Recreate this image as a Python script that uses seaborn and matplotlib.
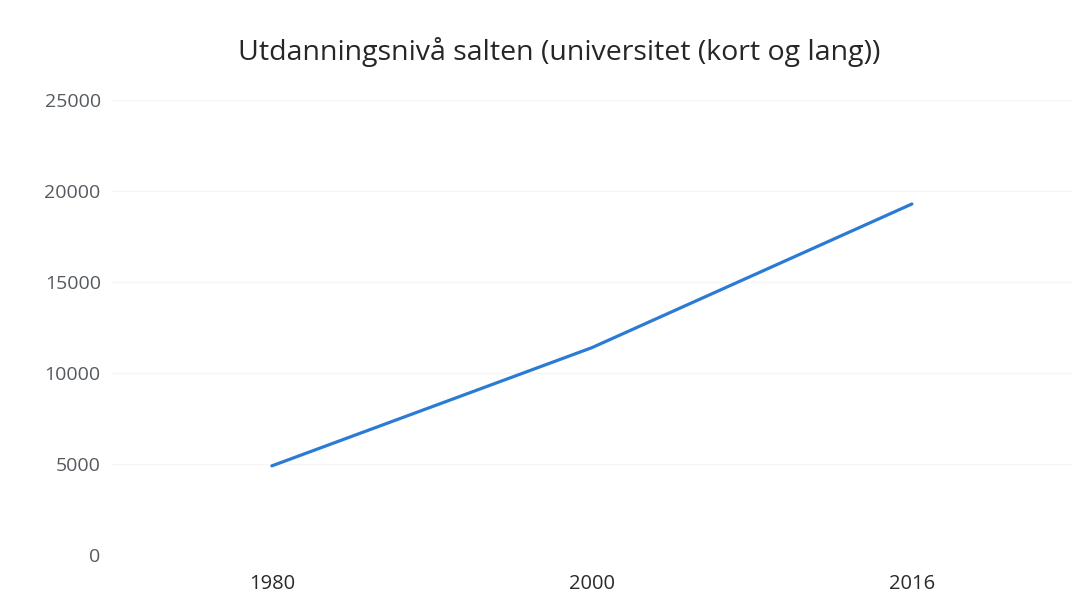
import matplotlib
matplotlib.use("Agg")
import matplotlib.pyplot as plt
import seaborn as sns
import pandas as pd

years = ["1980", "2000", "2016"]
values = [4900, 11400, 19300]
yticks = [0, 5000, 10000, 15000, 20000, 25000]

sns.set_style("white")
plt.rcParams['font.family'] = ['Open Sans', 'DejaVu Sans']

df = pd.DataFrame({"year": years, "value": values})

fig = plt.figure(figsize=(10.86, 6.07), dpi=100)
ax = fig.add_axes([0.103, 0.0857, 0.884, 0.749])
for y in yticks:
    ax.axhline(y, color="#f5f5f5", lw=1, zorder=0)
sns.lineplot(data=df, x="year", y="value", color="#2b7bd4", linewidth=2.3, ax=ax)

ax.set_xlim(-0.5, 2.5)
ax.set_ylim(0, 25000)
ax.set_yticks(yticks)
ax.set_yticklabels([str(v) for v in yticks], fontsize=14, color="#555a60")
ax.tick_params(axis="x", labelsize=14.5, labelcolor="#2a2a2a", pad=14, length=0)
ax.tick_params(axis="y", pad=8, length=0)
ax.set_xlabel("")
ax.set_ylabel("")
for s in ax.spines.values():
    s.set_visible(False)

fig.text(0.515, 0.915, "Utdanningsnivå salten (universitet (kort og lang))",
         ha="center", va="center", fontsize=20.5, color="#262626")

fig.savefig("out.png", dpi=100)
